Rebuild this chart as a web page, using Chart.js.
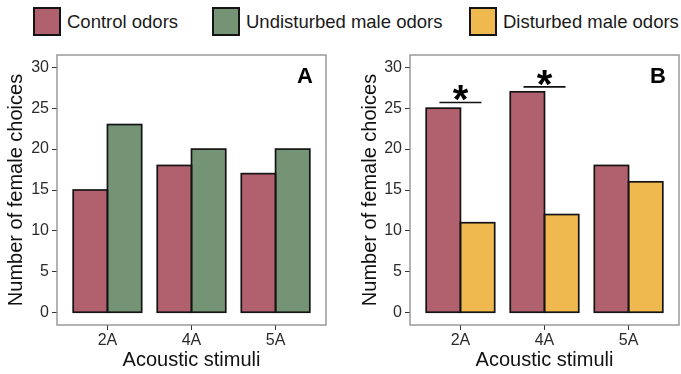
<!DOCTYPE html>
<html>
<head>
<meta charset="utf-8">
<script src="https://cdn.jsdelivr.net/npm/chart.js@4.4.1/dist/chart.umd.min.js"></script>
<style>
  body { margin: 0; background: #fff; }
  #wrap { position: relative; width: 681px; height: 374px; overflow: hidden;
          font-family: "Liberation Sans", Arial, sans-serif; }
  .leg { position: absolute; top: 7px; height: 29px; display: flex; align-items: center;
         font-size: 18.5px; color: #1a1a1a; white-space: nowrap; }
  .box { width: 28px; height: 29px; box-sizing: border-box; border: 2px solid #141414; margin-right: 6px; }
  canvas { position: absolute; top: 0; }
</style>
</head>
<body>
<div id="wrap">
  <div class="leg" style="left:33px"><span class="box" style="background:#b0616d"></span>Control odors</div>
  <div class="leg" style="left:212px"><span class="box" style="background:#749475"></span>Undisturbed male odors</div>
  <div class="leg" style="left:469px"><span class="box" style="background:#f0b950"></span>Disturbed male odors</div>
  <canvas id="chartA" width="340" height="374" style="left:0;width:340px;height:374px"></canvas>
  <canvas id="chartB" width="341" height="374" style="left:340px;width:341px;height:374px"></canvas>
</div>
<script>
// data
const categories = ["2A", "4A", "5A"];
const xPos = [1, 2, 3];
const controlA = [15, 18, 17];
const undisturbedA = [23, 20, 20];
const controlB = [25, 27, 18];
const disturbedB = [11, 12, 16];
const yTicks = [0, 5, 10, 15, 20, 25, 30];
const sigX = [1, 2];        // pairs marked with a star (panel B)
const sigY = [25.7, 27.6];  // height of the bracket line
const sigHalf = 0.25;       // half length of the bracket line

const FONT = '"Liberation Sans", Arial, sans-serif';
const colControl = "#b0616d";
const colUndist = "#749475";
const colDist = "#f0b950";

function barSet(label, values, color) {
  return {
    type: "bar",
    label: label,
    data: xPos.map((x, i) => ({ x: x, y: values[i] })),
    backgroundColor: color,
    borderWidth: 0,
    categoryPercentage: 0.815,
    barPercentage: 1
  };
}

// outlines of the bars (shared edge in the middle), box, panel letter, stars
const framePlugin = {
  id: "frame",
  afterDatasetsDraw(chart) {
    const ctx = chart.ctx;
    ctx.save();
    ctx.strokeStyle = "#141414";
    ctx.lineWidth = 1.7;
    chart.data.datasets.forEach((ds, i) => {
      if (ds.type !== "bar") return;
      chart.getDatasetMeta(i).data.forEach(bar => {
        const p = bar.getProps(["x", "y", "base", "width"], true);
        ctx.strokeRect(p.x - p.width / 2, p.y, p.width, p.base - p.y);
      });
    });
    ctx.restore();
  },
  afterDraw(chart, args, opts) {
    const { ctx, chartArea: a, scales } = chart;
    ctx.save();
    ctx.strokeStyle = "#8a8a8a";
    ctx.lineWidth = 1.3;
    ctx.strokeRect(a.left, a.top, a.right - a.left, a.bottom - a.top);
    ctx.fillStyle = "#000";
    ctx.font = "bold 22px " + FONT;
    ctx.textAlign = "right";
    ctx.textBaseline = "top";
    ctx.fillText(opts.label, a.right - 13, a.top + 11);
    if (opts.stars) {
      ctx.font = "bold 40px " + FONT;
      ctx.textAlign = "center";
      ctx.textBaseline = "alphabetic";
      opts.stars.x.forEach((x, i) => {
        const px = scales.x.getPixelForValue(x);
        const py = scales.y.getPixelForValue(opts.stars.y[i]);
        ctx.fillText("*", px, py + 11);
      });
    }
    ctx.restore();
  }
};

function makeChart(id, label, datasets, yWidth, padLeft, padRight, stars) {
  return new Chart(document.getElementById(id), {
    data: { datasets: datasets },
    options: {
      responsive: false,
      animation: false,
      layout: { padding: { top: 55, right: padRight, left: padLeft, bottom: 0 } },
      plugins: {
        legend: { display: false },
        tooltip: { enabled: false },
        frame: { label: label, stars: stars }
      },
      scales: {
        x: {
          type: "linear",
          min: 0.4,
          max: 3.6,
          offset: false,
          afterBuildTicks: s => { s.ticks = xPos.map(v => ({ value: v })); },
          afterFit: s => { s.height = 49; },
          border: { display: false },
          grid: { display: true, offset: false, drawOnChartArea: false, tickLength: 5, color: "#333", lineWidth: 1 },
          ticks: {
            padding: 1,
            color: "#2b2b2b",
            font: { family: FONT, size: 16 },
            callback: v => categories[xPos.indexOf(v)] || ""
          },
          title: {
            display: true,
            text: "Acoustic stimuli",
            color: "#111",
            font: { family: FONT, size: 20 },
            padding: { top: 0, bottom: 2 }
          }
        },
        y: {
          type: "linear",
          min: -1.5,
          max: 31.5,
          afterBuildTicks: s => { s.ticks = yTicks.map(v => ({ value: v })); },
          afterFit: s => { s.width = yWidth; },
          border: { display: false },
          grid: { display: true, drawOnChartArea: false, tickLength: 5, color: "#333", lineWidth: 1 },
          ticks: {
            padding: 3,
            color: "#2b2b2b",
            font: { family: FONT, size: 16 }
          },
          title: {
            display: true,
            text: "Number of female choices",
            color: "#111",
            font: { family: FONT, size: 20 },
            padding: { top: 4, bottom: 0 }
          }
        }
      }
    },
    plugins: [framePlugin]
  });
}

makeChart("chartA", "A", [
  barSet("Control odors", controlA, colControl),
  barSet("Undisturbed male odors", undisturbedA, colUndist)
], 57, 0, 14, null);

const bracketSets = sigX.map((x, i) => ({
  type: "line",
  data: [{ x: x - sigHalf, y: sigY[i] }, { x: x + sigHalf, y: sigY[i] }],
  borderColor: "#111",
  borderWidth: 1.6,
  pointRadius: 0,
  fill: false
}));

makeChart("chartB", "B", [
  barSet("Control odors", controlB, colControl),
  barSet("Disturbed male odors", disturbedB, colDist)
].concat(bracketSets), 56, 14, 2, { x: sigX, y: sigY });
</script>
</body>
</html>
